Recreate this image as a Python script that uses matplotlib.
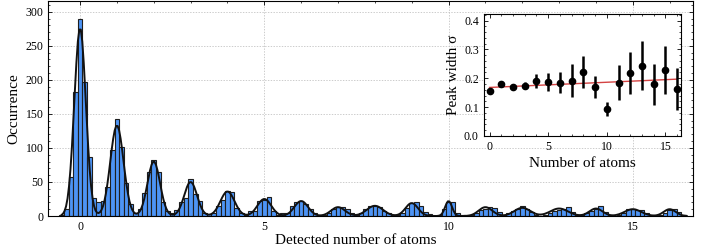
import numpy as np
import matplotlib
matplotlib.use("Agg")
import matplotlib.pyplot as plt
from matplotlib.ticker import MultipleLocator

plt.rcParams['font.family'] = ['Liberation Serif', 'DejaVu Serif']
plt.rcParams['xtick.direction'] = 'in'
plt.rcParams['ytick.direction'] = 'in'
plt.rcParams['xtick.top'] = True
plt.rcParams['ytick.right'] = True

# histogram: bin width 0.125, first bin centred at -0.5
bin_width = 0.125
first_center = -0.5
counts = [
    1, 11, 58, 182, 290, 197, 86, 27,
    21, 22, 42, 97, 142, 101, 49, 18,
    5, 11, 34, 64, 82, 64, 21, 7,
    4, 9, 21, 27, 54, 32, 22, 4,
    3, 4, 15, 23, 37, 35, 12, 4,
    1, 7, 7, 22, 24, 28, 8, 2,
    4, 4, 14, 20, 22, 18, 10, 5,
    1, 1, 4, 10, 13, 13, 10, 4,
    2, 4, 11, 14, 15, 13, 8, 5,
    1, 1, 4, 12, 19, 20, 14, 6,
    3, 0, 1, 10, 21, 21, 4, 1,
    0, 1, 4, 9, 11, 13, 12, 6,
    2, 5, 8, 10, 14, 10, 6, 2,
    0, 1, 5, 8, 9, 10, 13, 6,
    1, 1, 5, 8, 10, 14, 6, 2,
    0, 1, 4, 10, 10, 9, 9, 4,
    1, 0, 1, 5, 9, 11, 6, 1,
]

# fitted gaussian peaks
n_atoms = list(range(17))
amplitude = [276, 133, 80, 50, 36, 25, 22, 13, 15, 19, 22, 13, 12, 11, 11, 10, 10]
sigma = [0.156, 0.179, 0.170, 0.174, 0.191, 0.188, 0.185, 0.191, 0.222,
         0.170, 0.093, 0.185, 0.217, 0.243, 0.179, 0.229, 0.164]
sigma_err = [0.004, 0.005, 0.006, 0.012, 0.025, 0.031, 0.035, 0.057, 0.055,
             0.037, 0.023, 0.060, 0.073, 0.085, 0.071, 0.083, 0.073]
# linear fit of sigma vs n
lin_offset = 0.168
lin_slope = 0.0018

fig = plt.figure(figsize=(7.01, 2.48), dpi=100)
ax = fig.add_axes([0.069, 0.129, 0.920, 0.865])

centers = first_center + bin_width * np.arange(len(counts))
ax.bar(centers, counts, width=bin_width, color='#4d94f5',
       edgecolor='#1e1e1e', linewidth=0.8, zorder=2)

xf = np.arange(-0.5, 16.5, 0.04)
yf = np.zeros_like(xf)
for n, a, s in zip(n_atoms, amplitude, sigma):
    yf += a * np.exp(-(xf - n) ** 2 / (2 * s ** 2))
ax.plot(xf, yf, color='#111111', lw=1.4, zorder=3)

ax.set_xlim(-0.86, 16.64)
ax.set_ylim(0, 315)
ax.xaxis.set_major_locator(MultipleLocator(5))
ax.xaxis.set_minor_locator(MultipleLocator(1))
ax.yaxis.set_major_locator(MultipleLocator(50))
ax.yaxis.set_minor_locator(MultipleLocator(10))
ax.tick_params(which='major', length=3, width=0.6, labelsize=8.5)
ax.tick_params(which='minor', length=1.6, width=0.5)
ax.grid(True, which='major', ls=(0, (2, 2)), lw=0.5, color='#b8b8b8', zorder=0)
ax.set_axisbelow(True)
ax.set_xlabel('Detected number of atoms', fontsize=11, labelpad=1)
ax.xaxis.set_label_coords(0.476, -0.085)
ax.set_ylabel('Occurrence', fontsize=11, labelpad=4)
for sp in ax.spines.values():
    sp.set_linewidth(0.8)

# inset
axi = fig.add_axes([0.690, 0.452, 0.281, 0.492])
axi.errorbar(n_atoms, sigma, yerr=sigma_err, fmt='o', color='black',
             ms=4.5, elinewidth=1.8, capsize=0, zorder=3)
xl = np.array([0, 16])
axi.plot(xl, lin_offset + lin_slope * xl, color='#cc2222', lw=1.0, alpha=0.85, zorder=2)
axi.set_xlim(-0.5, 16.3)
axi.set_ylim(0, 0.423)
axi.xaxis.set_major_locator(MultipleLocator(5))
axi.xaxis.set_minor_locator(MultipleLocator(1))
axi.yaxis.set_major_locator(MultipleLocator(0.1))
axi.yaxis.set_minor_locator(MultipleLocator(0.02))
axi.tick_params(which='major', length=3, width=0.6, labelsize=8.5)
axi.tick_params(which='minor', length=1.6, width=0.5)
axi.set_xlabel('Number of atoms', fontsize=11, labelpad=3)
axi.set_ylabel('Peak width σ', fontsize=11, labelpad=3)
for sp in axi.spines.values():
    sp.set_linewidth(0.8)

fig.savefig('out.png', dpi=100)
